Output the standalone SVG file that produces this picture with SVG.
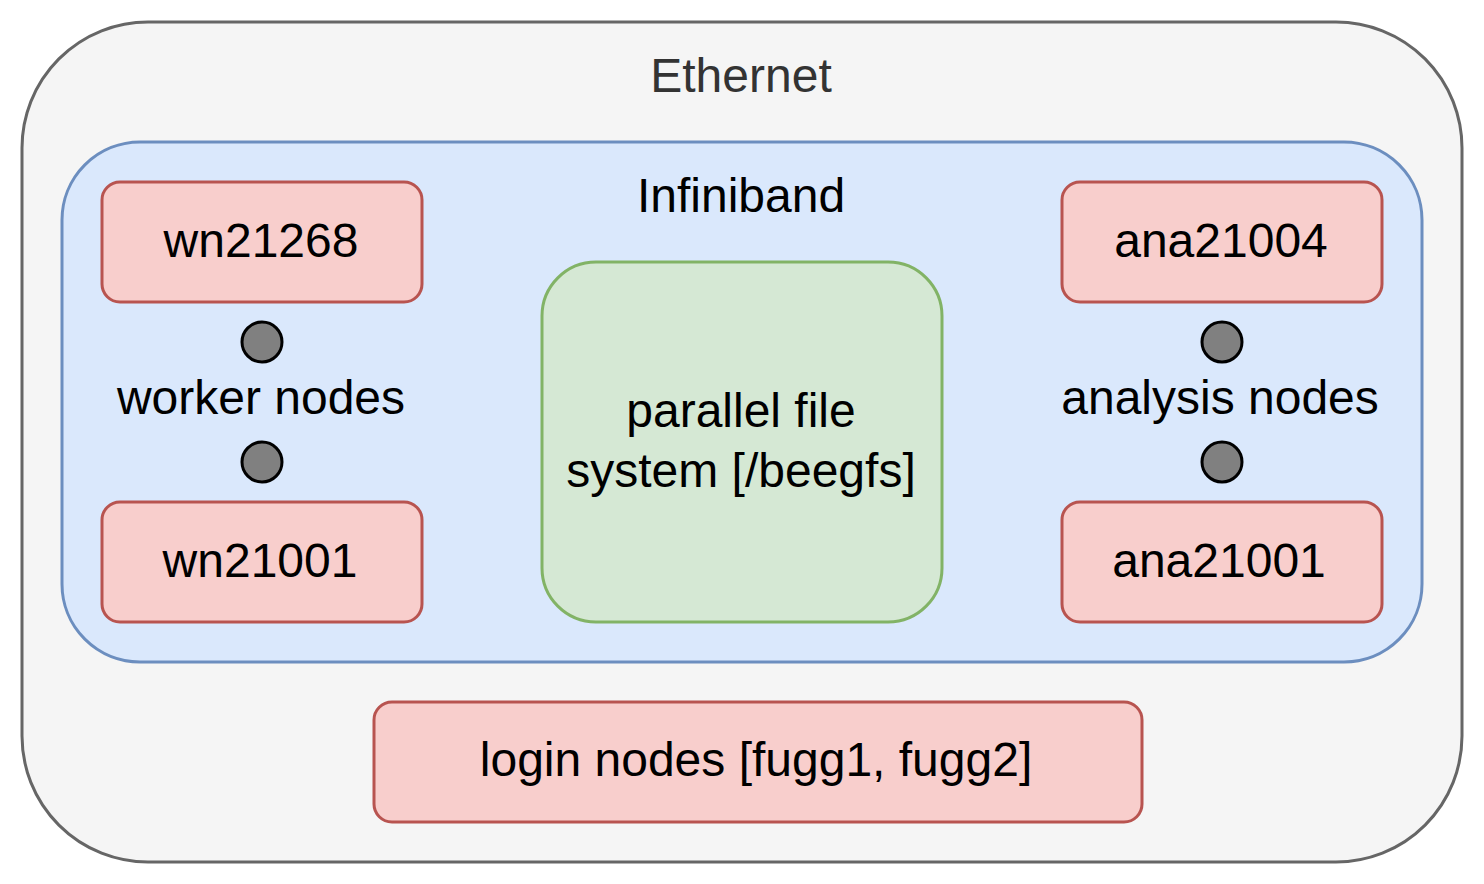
<svg xmlns="http://www.w3.org/2000/svg" width="1484" height="884" viewBox="0 0 1484 884">
<style>
text{font-family:"Liberation Sans",Arial,Helvetica,sans-serif;font-size:48px;text-anchor:middle;fill:#000}
.red{fill:#f8cecc;stroke:#b85450;stroke-width:3}
.dot{fill:#808080;stroke:#000;stroke-width:3}
</style>
<rect width="1484" height="884" fill="#ffffff"/>
<g id="ethernet">
<rect x="22" y="22" width="1440" height="840" rx="126" ry="126" fill="#f5f5f5" stroke="#666666" stroke-width="3"/>
<text x="741" y="92" style="fill:#333333">Ethernet</text>
</g>
<g id="infiniband">
<rect x="62" y="142" width="1360" height="520" rx="78" ry="78" fill="#dae8fc" stroke="#6c8ebf" stroke-width="3"/>
<text x="741" y="212">Infiniband</text>
</g>
<g id="wn21268">
<rect class="red" x="102" y="182" width="320" height="120" rx="18" ry="18"/>
<text x="261" y="257">wn21268</text>
</g>
<g id="wn21001">
<rect class="red" x="102" y="502" width="320" height="120" rx="18" ry="18"/>
<text x="260" y="577">wn21001</text>
</g>
<g id="worker-dots">
<circle class="dot" cx="262" cy="342" r="20"/>
<circle class="dot" cx="262" cy="462" r="20"/>
<text x="261" y="414">worker nodes</text>
</g>
<g id="pfs">
<rect x="542" y="262" width="400" height="360" rx="54" ry="54" fill="#d5e8d4" stroke="#82b366" stroke-width="3"/>
<text x="741" y="427">parallel file</text>
<text x="741" y="487">system [/beegfs]</text>
</g>
<g id="ana21004">
<rect class="red" x="1062" y="182" width="320" height="120" rx="18" ry="18"/>
<text x="1221" y="257">ana21004</text>
</g>
<g id="ana21001">
<rect class="red" x="1062" y="502" width="320" height="120" rx="18" ry="18"/>
<text x="1219" y="577">ana21001</text>
</g>
<g id="analysis-dots">
<circle class="dot" cx="1222" cy="342" r="20"/>
<circle class="dot" cx="1222" cy="462" r="20"/>
<text x="1220" y="414">analysis nodes</text>
</g>
<g id="login">
<rect class="red" x="374" y="702" width="768" height="120" rx="18" ry="18"/>
<text x="756" y="776">login nodes [fugg1, fugg2]</text>
</g>
<g id="connectors"></g>
</svg>
